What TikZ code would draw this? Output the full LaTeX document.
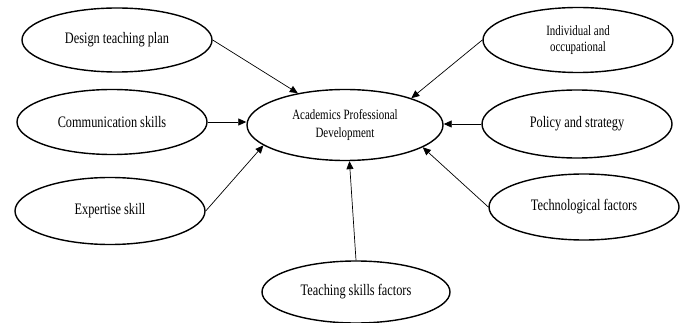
\documentclass[tikz,border=0pt]{standalone}
\usepackage{fontspec}
\setmainfont{Liberation Serif}[FakeStretch=0.77]
\usetikzlibrary{shapes.geometric,arrows.meta}
\begin{document}
\begin{tikzpicture}[x=1pt,y=-1pt,
  oval/.style={draw,line width=1.4pt,ellipse,minimum width=#1,inner sep=0pt,align=center,font=\fontsize{16}{18}\selectfont},
  oval/.default={190pt},
  link/.style={draw,line width=0.7pt,-{Triangle[length=8pt,width=7pt]}}]
\useasboundingbox (0,0) rectangle (687,323);
\node[oval,minimum height=64pt] (dtp) at (117,40) {Design teaching plan};
\node[oval,minimum height=65pt] (com) at (112,122) {Communication skills};
\node[oval,minimum height=67pt] (exp) at (110,211) {Expertise skill};
\node[oval=196pt,minimum height=71pt,font=\fontsize{14.2}{18}\selectfont] (apd) at (345,125) {Academics Professional\\Development};
\node[oval,minimum height=65pt,font=\fontsize{14.2}{15.5}\selectfont] (ind) at (578,40) {Individual and\\occupational};
\node[oval,minimum height=68pt] (pol) at (577,124) {Policy and strategy};
\node[oval,minimum height=66pt] (tec) at (584,207) {Technological factors};
\node[oval=188pt,minimum height=62pt] (tsf) at (356,292) {Teaching skills factors};
\draw[link] (dtp.east) -- (apd.146);
\draw[link] (com.east) -- (com.east -| apd.west);
\draw[link] (exp.east) -- (apd.194);
\draw[link] (ind.west) -- (apd.22);
\draw[link] (pol.west) -- (pol.west -| apd.east);
\draw[link] (tec.west) -- (apd.344);
\draw[link] (tsf.north) -- (apd.277);
\end{tikzpicture}
\end{document}
